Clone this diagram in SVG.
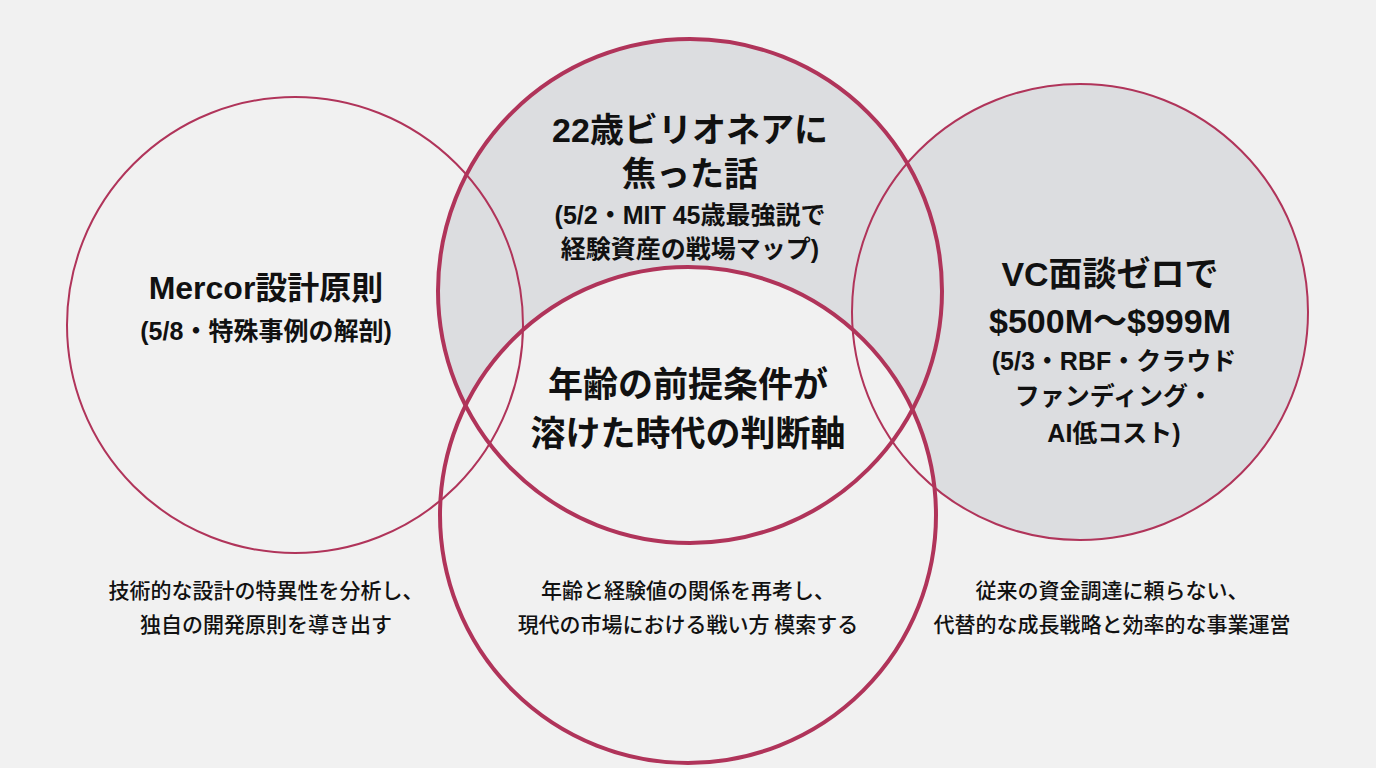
<svg xmlns="http://www.w3.org/2000/svg" width="1376" height="768" viewBox="0 0 1376 768">
<style>
.t{font-family:"Liberation Sans","Noto Sans CJK JP",sans-serif;font-weight:bold;fill:#111;text-anchor:middle}
.s{font-family:"Noto Sans CJK JP",sans-serif;font-weight:500;fill:#111;text-anchor:middle;font-size:21px}
.ln{fill:none;stroke:#b0345a}
</style>
<rect width="1376" height="768" fill="#f1f1f1"/>
<g id="fills">
<circle cx="295" cy="325" r="228" fill="#f1f1f1"/>
<circle cx="1080" cy="312" r="228" fill="#dcdde0"/>
<circle cx="690" cy="291" r="252" fill="#dcdde0"/>
<circle cx="688" cy="515" r="248" fill="#f1f1f1"/>
</g>
<g id="connectors">
<circle class="ln" cx="295" cy="325" r="228" stroke-width="2"/>
<circle class="ln" cx="1080" cy="312" r="228" stroke-width="2"/>
<circle class="ln" cx="690" cy="291" r="252" stroke-width="4"/>
<circle class="ln" cx="688" cy="515" r="248" stroke-width="4"/>
</g>
<g id="left">
<text class="t" x="266" y="299" font-size="32">Mercor設計原則</text>
<text class="t" x="266" y="340" font-size="25">(5/8・特殊事例の解剖)</text>
</g>
<g id="top">
<text class="t" x="690" y="142" font-size="34">22歳ビリオネアに</text>
<text class="t" x="690" y="186" font-size="34">焦った話</text>
<text class="t" x="690" y="224" font-size="25">(5/2・MIT 45歳最強説で</text>
<text class="t" x="690" y="258" font-size="25">経験資産の戦場マップ)</text>
</g>
<g id="right">
<text class="t" x="1110" y="286" font-size="34">VC面談ゼロで</text>
<text class="t" x="1110" y="333" font-size="34">$500M〜$999M</text>
<text class="t" x="1114" y="370" font-size="25">(5/3・RBF・クラウド</text>
<text class="t" x="1114" y="405" font-size="25">ファンディング・</text>
<text class="t" x="1114" y="442" font-size="25">AI低コスト)</text>
</g>
<g id="center">
<text class="t" x="688" y="397" font-size="35">年齢の前提条件が</text>
<text class="t" x="688" y="446" font-size="35">溶けた時代の判断軸</text>
</g>
<g id="notes">
<text class="s" x="266" y="598">技術的な設計の特異性を分析し、</text>
<text class="s" x="266" y="632">独自の開発原則を導き出す</text>
<text class="s" x="688" y="598">年齢と経験値の関係を再考し、</text>
<text class="s" x="688" y="632">現代の市場における戦い方 模索する</text>
<text class="s" x="1112" y="598">従来の資金調達に頼らない、</text>
<text class="s" x="1112" y="632">代替的な成長戦略と効率的な事業運営</text>
</g>
</svg>
